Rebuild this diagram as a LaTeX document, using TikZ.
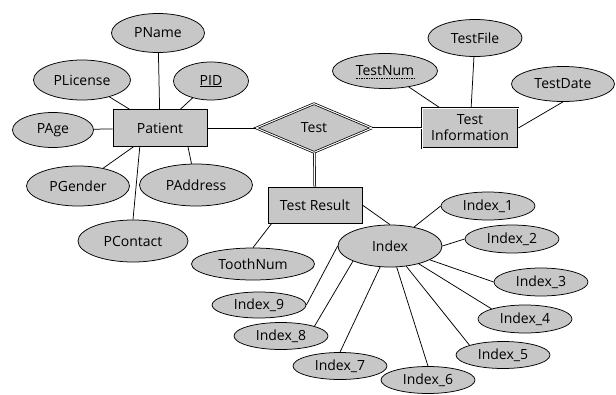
\documentclass[tikz,border=0pt]{standalone}
\usepackage{fontspec}
\setmainfont{Open Sans}
\usetikzlibrary{shapes.geometric}

\definecolor{ergray}{gray}{0.78}
\tikzset{
  attr/.style={ellipse, draw, fill=ergray, inner sep=0pt, minimum width=95pt, minimum height=38pt},
  idxattr/.style={attr, minimum width=94pt, minimum height=27pt},
  ent/.style={rectangle, draw, fill=ergray, inner sep=0pt, minimum width=94pt, minimum height=37pt},
  weakent/.style={ent, double, double distance=1pt},
  rel/.style={diamond, draw, fill=ergray, double, double distance=1pt, inner sep=0pt, minimum width=116pt, minimum height=49pt},
  dbl/.style={double, double distance=1pt}
}

\begin{document}
\begin{tikzpicture}[x=1pt, y=-1pt, line width=0.75pt, font=\fontsize{14}{16}\selectfont]
\useasboundingbox (0,0) rectangle (616,394);

% patient side
\node[ent] (pat) at (160,128) {Patient};
\node[attr, minimum width=93pt, minimum height=39pt] (pname) at (158,33) {PName};
\node[attr, minimum width=97pt, minimum height=40pt] (plic) at (82,80) {PLicense};
\node[attr, minimum width=75pt, minimum height=38pt] (pid) at (211,81) {\underline{PID}};
\node[attr, minimum width=81pt, minimum height=35pt] (page) at (53,130) {PAge};
\node[attr, minimum width=103pt, minimum height=40pt] (pgen) at (78,186) {PGender};
\node[attr, minimum width=113pt, minimum height=42pt] (padd) at (196,185) {PAddress};
\node[attr, minimum width=110pt, minimum height=42pt] (pcon) at (133,241) {PContact};

\draw (pname) -- (pat);
\draw (plic) -- (pat);
\draw (pid) -- (pat);
\draw (page) -- (pat);
\draw (pgen) -- (pat);
\draw (pat.326) -- (padd);
\draw (pat.223) -- (pcon.north);

% relationship and test information
\node[rel] (tst) at (314,128) {Test};
\node[weakent, minimum width=96pt, minimum height=40pt, align=center] (tinfo) at (470,128) {Test\\Information};
\node[attr, minimum width=105pt, minimum height=35pt] (tnum) at (385,71) {TestNum};
\node[attr, minimum width=94pt, minimum height=37pt] (tfile) at (475,38) {TestFile};
\node[attr, minimum width=103pt, minimum height=35pt] (tdate) at (563,84) {TestDate};
\draw[line width=0.5pt, dash pattern=on 1.5pt off 1pt] ([xshift=-29pt, yshift=-2pt]tnum.base) -- ([xshift=29pt, yshift=-2pt]tnum.base);

\draw (pat) -- (tst);
\draw[dbl] (tst) -- (tinfo);
\draw (tnum) -- (tinfo);
\draw (tfile) -- (tinfo);
\draw (tdate.south) -- (tinfo.east);

% test result
\node[ent, minimum height=36pt] (tres) at (315,205) {Test Result};
\node[attr, minimum width=123pt, minimum height=32pt] (tooth) at (253,264) {ToothNum};
\node[attr, minimum width=104pt, minimum height=42pt] (idx) at (390,246) {Index};

\draw[dbl] (tst) -- (tres);
\draw (tres.203) -- (tooth.north);
\draw (tres.east) -- (idx.north);

\node[idxattr, minimum height=28pt] (i1) at (488,206) {Index\_1};
\node[idxattr, minimum height=28pt] (i2) at (512,239) {Index\_2};
\node[idxattr, minimum height=28pt] (i3) at (541,282) {Index\_3};
\node[idxattr, minimum height=28pt] (i4) at (525,319) {Index\_4};
\node[idxattr] (i5) at (503,355) {Index\_5};
\node[idxattr] (i6) at (428,380) {Index\_6};
\node[idxattr] (i7) at (340,366) {Index\_7};
\node[idxattr] (i8) at (281,336) {Index\_8};
\node[idxattr, minimum height=26pt] (i9) at (259,305) {Index\_9};

\foreach \s/\k/\a in {idx/1/west, idx.east/2/west, idx/3/west, idx/4/north west,
    idx/5/north west, idx/6/north, idx/7/north, idx.south west/8/north east, idx.west/9/east}
  \draw (\s) -- (i\k.\a);
\end{tikzpicture}
\end{document}
